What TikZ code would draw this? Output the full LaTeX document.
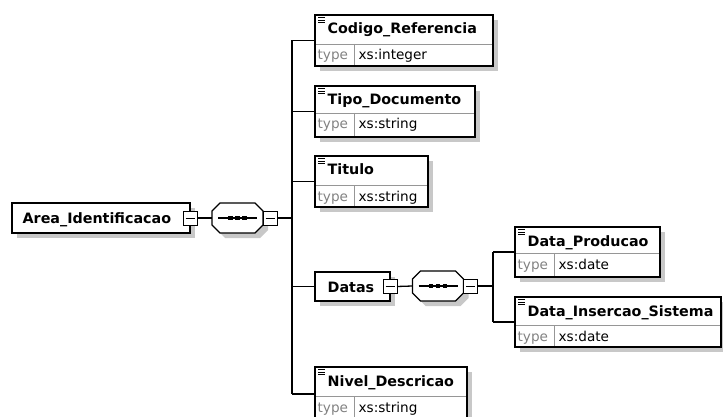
\documentclass[tikz,border=0pt]{standalone}
\usepackage{fontspec}
\setmainfont{DejaVu Sans}
\usetikzlibrary{shadows}
\definecolor{shadowc}{RGB}{200,200,200}
\definecolor{divc}{RGB}{150,150,150}
\definecolor{typec}{RGB}{130,130,130}
% #1 name, #2 x1, #3 y1, #4 x2, #5 ymid, #6 y2, #7 title, #8 type
\newcommand\xsel[8]{%
  \node[elembox, minimum width={#4pt-#2pt}, minimum height={#6pt-#3pt}] (#1) at ({(#2+#4)/2},{(#3+#6)/2}) {};
  \draw[divline] (#2,#5) -- (#4,#5);
  \draw[divline] ({#2+39},#5) -- ({#2+39},#6);
  \draw[line width=1.3pt] (#1.north west) rectangle (#1.south east);
  \foreach \dy in {2.5,5,7.5} \draw[line width=0.9pt] ({#2+3},{#3+\dy}) -- ({#2+10},{#3+\dy});
  \node[titletext] (#1-t) at ({#2+12},{#3+19}) {#7};
  \node[typelabel] (#1-l) at ({#2+2},{#5+16}) {type};
  \node[typeval] (#1-v) at ({#2+43},{#5+16}) {#8};
}
\begin{document}
\begin{tikzpicture}[x=1pt,y=-1pt, line width=1.3pt,
  elembox/.style={draw, fill=white, line width=1.3pt, inner sep=0pt, outer sep=0pt,
    drop shadow={shadow xshift=5pt, shadow yshift=-5pt, fill=shadowc, opacity=1}},
  divline/.style={draw=divc, line width=0.9pt},
  titletext/.style={anchor=base west, inner sep=0pt, font=\fontsize{14.3}{16}\selectfont\bfseries},
  typelabel/.style={anchor=base west, inner sep=0pt, text=typec, font=\fontsize{13.6}{16}\selectfont},
  typeval/.style={anchor=base west, inner sep=0pt, font=\fontsize{13.6}{16}\selectfont},
  minussq/.style={draw, fill=white, minimum size=14pt, inner sep=0pt, outer sep=0pt, line width=1pt,
    path picture={\draw[line width=1pt] ([xshift=-4.5pt]path picture bounding box.center) -- ([xshift=4.5pt]path picture bounding box.center);}},
  seqbox/.style={draw=none, minimum width=51pt, minimum height=30pt, inner sep=0pt, outer sep=0pt},
  octo/.style={draw, fill=white, line width=1.3pt, drop shadow={shadow xshift=5pt, shadow yshift=-5pt, fill=shadowc, opacity=1}},
  dot/.style={fill=black, draw=none, minimum size=4.5pt, inner sep=0pt},
  conn/.style={draw, line width=1.3pt}
]
\useasboundingbox (0,0) rectangle (723,417);
\fill[white] (0,0) rectangle (723,417);

% root element
\node[elembox, minimum width=178pt, minimum height=30pt] (ai) at (101,218) {};
\node[titletext] (ait) at (22,223) {Area\_Identificacao};
\node[minussq] (am) at (190,218) {};

% sequence 1
\node[seqbox] (seq1) at (237.5,218) {};
\path[octo] ([xshift=8pt]seq1.north west) -- ([xshift=-8pt]seq1.north east) -- ([yshift=-8pt]seq1.north east)
  -- ([yshift=8pt]seq1.south east) -- ([xshift=-8pt]seq1.south east) -- ([xshift=8pt]seq1.south west)
  -- ([yshift=8pt]seq1.south west) -- ([yshift=-8pt]seq1.north west) -- cycle;
\draw[line width=1.2pt] ([xshift=-19.5pt]seq1.center) -- ([xshift=19.5pt]seq1.center);
\node[dot] (s1a) at ([xshift=-7pt]seq1.center) {};
\node[dot] (s1b) at (seq1.center) {};
\node[dot] (s1c) at ([xshift=7pt]seq1.center) {};
\node[minussq, anchor=west] (sm1) at (seq1.east) {};
\coordinate (j1) at (292,218);

% children
\xsel{cr}{315}{15}{493}{44}{66}{Codigo\_Referencia}{xs:integer}
\xsel{td}{315}{86}{475}{113}{137}{Tipo\_Documento}{xs:string}
\xsel{ti}{315}{156}{428}{185}{207}{Titulo}{xs:string}
\xsel{nd}{315}{367}{467}{396}{421}{Nivel\_Descricao}{xs:string}

% Datas
\node[elembox, minimum width=75pt, minimum height=29pt] (da) at (352.5,286.5) {};
\node[titletext] (dat) at (327,292) {Datas};
\node[minussq] (dm) at (390,286.5) {};

\node[seqbox] (seq2) at (438,286) {};
\path[octo] ([xshift=8pt]seq2.north west) -- ([xshift=-8pt]seq2.north east) -- ([yshift=-8pt]seq2.north east)
  -- ([yshift=8pt]seq2.south east) -- ([xshift=-8pt]seq2.south east) -- ([xshift=8pt]seq2.south west)
  -- ([yshift=8pt]seq2.south west) -- ([yshift=-8pt]seq2.north west) -- cycle;
\draw[line width=1.2pt] ([xshift=-19.5pt]seq2.center) -- ([xshift=19.5pt]seq2.center);
\node[dot] (s2a) at ([xshift=-7pt]seq2.center) {};
\node[dot] (s2b) at (seq2.center) {};
\node[dot] (s2c) at ([xshift=7pt]seq2.center) {};
\node[minussq, anchor=west] (sm2) at (seq2.east) {};
\coordinate (j2) at (493,286);

\xsel{dp}{515}{227}{660}{253}{277}{Data\_Producao}{xs:date}
\xsel{dis}{515}{297}{721}{325}{347}{Data\_Insercao\_Sistema}{xs:date}

% connectors
\draw[conn] (am.east) -- (seq1.west);
\draw[conn] (sm1.east) -- (j1);
\draw[conn] (j1 |- cr.west) -- (j1 |- nd.west);
\foreach \c in {cr,td,ti,da,nd} \draw[conn] (j1 |- \c.west) -- (\c.west);
\draw[conn] (dm.east) -- (seq2.west);
\draw[conn] (sm2.east) -- (j2);
\draw[conn] (j2 |- dp.west) -- (j2 |- dis.west);
\foreach \c in {dp,dis} \draw[conn] (j2 |- \c.west) -- (\c.west);
\end{tikzpicture}
\end{document}
